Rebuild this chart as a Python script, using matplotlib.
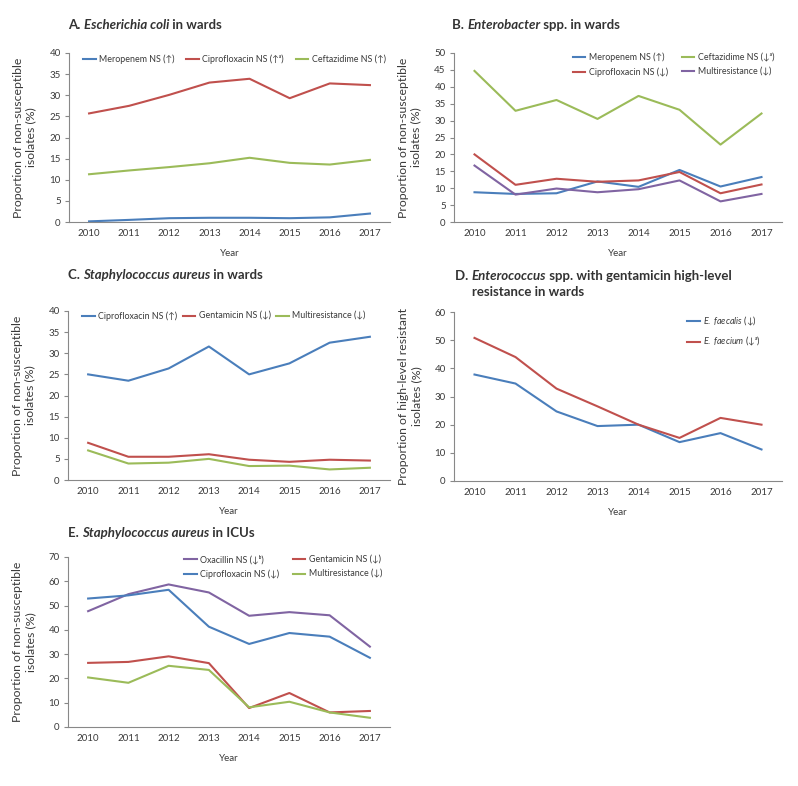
import matplotlib
matplotlib.use("Agg")
import matplotlib.pyplot as plt

plt.rcParams['font.family'] = ['Lato', 'DejaVu Sans']
plt.rcParams['mathtext.fontset'] = 'custom'
plt.rcParams['mathtext.it'] = 'Lato:italic'
plt.rcParams['mathtext.rm'] = 'Lato'
plt.rcParams['mathtext.fallback'] = 'stixsans'

years = [2010, 2011, 2012, 2013, 2014, 2015, 2016, 2017]

# Panel A: E. coli in wards
a_mero = [0.15, 0.5, 0.9, 1.0, 1.0, 0.9, 1.1, 2.0]
a_cipro = [25.7, 27.5, 30.1, 33.0, 33.9, 29.3, 32.8, 32.4]
a_cefta = [11.3, 12.2, 13.0, 13.9, 15.2, 14.0, 13.6, 14.7]

# Panel B: Enterobacter spp. in wards
b_mero = [8.8, 8.3, 8.5, 12.0, 10.4, 15.4, 10.5, 13.3]
b_cipro = [20.0, 11.0, 12.8, 11.9, 12.3, 14.8, 8.5, 11.1]
b_cefta = [44.7, 32.9, 36.1, 30.5, 37.3, 33.2, 22.9, 32.1]
b_multi = [16.7, 8.1, 9.9, 8.8, 9.7, 12.3, 6.1, 8.3]

# Panel C: S. aureus in wards
c_cipro = [25.0, 23.5, 26.4, 31.6, 25.0, 27.6, 32.5, 33.9]
c_gent = [8.8, 5.5, 5.5, 6.1, 4.8, 4.3, 4.8, 4.6]
c_multi = [7.0, 3.9, 4.1, 5.0, 3.3, 3.4, 2.5, 2.9]

# Panel D: Enterococcus spp. gentamicin high-level resistance
d_faecalis = [37.8, 34.6, 24.7, 19.5, 20.0, 13.8, 17.0, 11.2]
d_faecium = [50.8, 44.0, 32.8, 26.5, 20.0, 15.3, 22.4, 20.0]

# Panel E: S. aureus in ICUs
e_oxa = [47.7, 54.7, 58.7, 55.4, 45.8, 47.3, 46.0, 33.1]
e_cipro = [52.9, 54.2, 56.5, 41.3, 34.2, 38.7, 37.2, 28.5]
e_gent = [26.4, 26.8, 29.1, 26.3, 7.8, 14.0, 6.0, 6.6]
e_multi = [20.4, 18.2, 25.2, 23.5, 8.1, 10.4, 6.0, 3.8]

BLUE = '#4a7ebb'
RED = '#c0504d'
GREEN = '#9bbb59'
PURPLE = '#8064a2'
TXT = '#3a3a3a'
SPINE = '#888888'
LFS = 6.4

W, H = 798, 786
fig = plt.figure(figsize=(W / 100, H / 100), dpi=100)


def axes_px(l, t, r, b):
    return fig.add_axes([l / W, 1 - b / H, (r - l) / W, (b - t) / H])


def style(ax, ymax, ystep, ylabel):
    ax.set_xlim(2009.5, 2017.5)
    ax.set_ylim(0, ymax)
    ax.set_yticks(range(0, ymax + 1, ystep))
    ax.set_xticks(years)
    ax.set_xticklabels([str(y) for y in years])
    for s in ['top', 'right']:
        ax.spines[s].set_visible(False)
    for s in ['left', 'bottom']:
        ax.spines[s].set_color(SPINE)
        ax.spines[s].set_linewidth(0.8)
    ax.tick_params(axis='y', length=3, width=0.8, color=SPINE, labelsize=7, labelcolor=TXT, pad=3)
    ax.tick_params(axis='x', length=0, labelsize=7, labelcolor=TXT, pad=5)
    ax.set_xlabel('Year', fontsize=7, color=TXT, labelpad=8)
    ax.set_ylabel(ylabel, fontsize=8.8, color=TXT, labelpad=9, linespacing=1.25)


LW = 1.5
ylab_ns = 'Proportion of non-susceptible\nisolates (%)'
leg_kw = dict(frameon=False, fontsize=LFS, handlelength=1.4, handletextpad=0.4,
              labelcolor=TXT)

# A
axA = axes_px(69, 53, 390, 222)
axA.plot(years, a_mero, color=BLUE, lw=LW, label='Meropenem NS (↑)')
axA.plot(years, a_cipro, color=RED, lw=LW, label='Ciprofloxacin NS (↑ᵃ)')
axA.plot(years, a_cefta, color=GREEN, lw=LW, label='Ceftazidime NS (↑)')
style(axA, 40, 5, ylab_ns)
axA.legend(loc='upper left', bbox_to_anchor=(0.02, 1.04), ncol=3,
           columnspacing=1.3, **leg_kw)

# B
axB = axes_px(454, 53, 782, 222)
axB.plot(years, b_mero, color=BLUE, lw=LW, label='Meropenem NS (↑)')
axB.plot(years, b_cipro, color=RED, lw=LW, label='Ciprofloxacin NS (↓)')
axB.plot(years, b_cefta, color=GREEN, lw=LW, label='Ceftazidime NS (↓ᵃ)')
axB.plot(years, b_multi, color=PURPLE, lw=LW, label='Multiresistance (↓)')
style(axB, 50, 5, ylab_ns)
axB.legend(loc='upper right', bbox_to_anchor=(1.0, 1.05), ncol=2,
           columnspacing=1.5, labelspacing=0.6, **leg_kw)

# C
axC = axes_px(68, 311, 390, 480)
axC.plot(years, c_cipro, color=BLUE, lw=LW, label='Ciprofloxacin NS (↑)')
axC.plot(years, c_gent, color=RED, lw=LW, label='Gentamicin NS (↓)')
axC.plot(years, c_multi, color=GREEN, lw=LW, label='Multiresistance (↓)')
style(axC, 40, 5, ylab_ns)
axC.legend(loc='upper left', bbox_to_anchor=(0.02, 1.045), ncol=3,
           columnspacing=0.6, **leg_kw)

# D
axD = axes_px(454, 312, 782, 481)
axD.plot(years, d_faecalis, color=BLUE, lw=LW, label=r'$\it{E.\ faecalis}$ (↓)')
axD.plot(years, d_faecium, color=RED, lw=LW, label=r'$\it{E.\ faecium}$ (↓ᵃ)')
style(axD, 60, 10, 'Proportion of high-level resistant\nisolates (%)')
axD.legend(loc='upper right', bbox_to_anchor=(0.96, 1.03), ncol=1,
           labelspacing=0.8, **leg_kw)

# E
axE = axes_px(68, 557, 390, 727)
axE.plot(years, e_oxa, color=PURPLE, lw=LW, label='Oxacillin NS (↓ᵇ)')
axE.plot(years, e_cipro, color=BLUE, lw=LW, label='Ciprofloxacin NS (↓)')
axE.plot(years, e_gent, color=RED, lw=LW, label='Gentamicin NS (↓)')
axE.plot(years, e_multi, color=GREEN, lw=LW, label='Multiresistance (↓)')
style(axE, 70, 10, ylab_ns)
axE.legend(loc='upper right', bbox_to_anchor=(1.0, 1.06), ncol=2,
           columnspacing=1.5, labelspacing=0.6, **leg_kw)

# Titles with mixed bold / bold-italic runs
renderer = fig.canvas.get_renderer()


def rich_title(x_px, y_px, pieces, size=9.5):
    x = x_px
    for txt, italic in pieces:
        t = fig.text(x / W, 1 - y_px / H, txt, fontsize=size, fontweight='bold',
                     style='italic' if italic else 'normal', color='#333333',
                     va='center', ha='left')
        bb = t.get_window_extent(renderer=renderer)
        x += bb.width


rich_title(68, 25, [('A. ', False), ('Escherichia coli', True), (' in wards', False)])
rich_title(452, 25, [('B. ', False), ('Enterobacter', True), (' spp. in wards', False)])
rich_title(68, 275, [('C. ', False), ('Staphylococcus aureus', True), (' in wards', False)])
rich_title(455, 276, [('D. ', False), ('Enterococcus', True), (' spp. with gentamicin high-level', False)])
rich_title(472, 292, [('resistance in wards', False)])
rich_title(68, 533, [('E. ', False), ('Staphylococcus aureus', True), (' in ICUs', False)])

fig.savefig('out.png', dpi=100)
